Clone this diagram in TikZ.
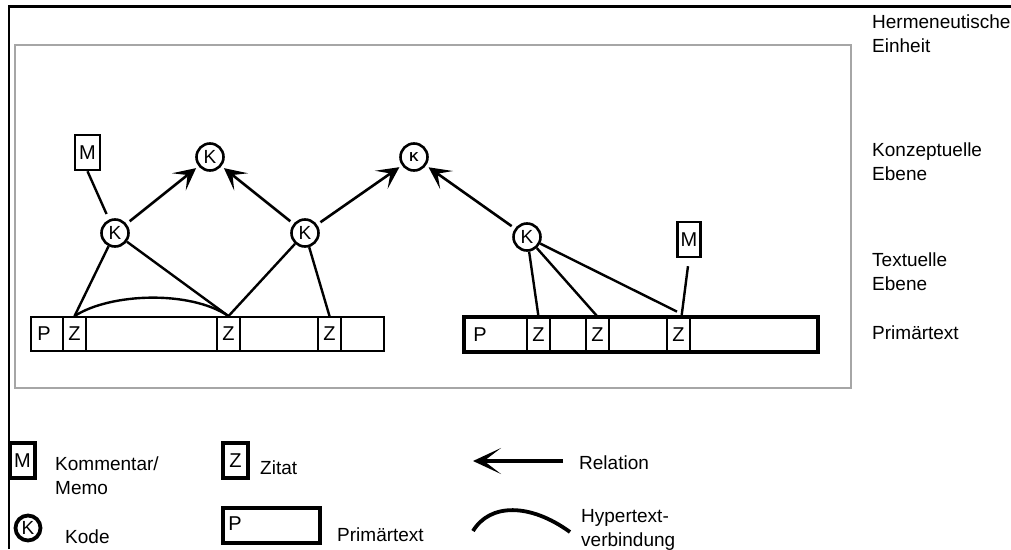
\documentclass[tikz,border=0pt]{standalone}
\usepackage{fontspec}
\setmainfont{Liberation Sans}
\usetikzlibrary{arrows.meta}
\begin{document}
\begin{tikzpicture}[x=1pt,y=-1pt,
  every node/.style={font=\fontsize{19}{24}\selectfont},
  kreis/.style={circle,draw,line width=2.6pt,minimum size=27pt,inner sep=0pt,font=\fontsize{19}{19}\selectfont},
  mbox/.style={rectangle,draw,line width=2.5pt,minimum width=25pt,minimum height=35pt,inner sep=0pt,font=\fontsize{20}{20}\selectfont},
  zcell/.style={rectangle,draw,line width=1.8pt,minimum width=23pt,minimum height=34pt,inner sep=0pt,font=\fontsize{20}{20}\selectfont},
  bar/.style={rectangle,draw,inner sep=0pt},
  ptext/.style={inner sep=0pt,font=\fontsize{20}{20}\selectfont},
  conn/.style={line width=2.4pt},
  rel/.style={line width=2.6pt,-{Stealth[length=22pt,width=22pt,inset=11pt]},shorten >=3pt,shorten <=4pt},
  lbl/.style={anchor=west,align=left,inner sep=0pt},
  lgd/.style={line width=3.8pt},
]
\useasboundingbox (0,0) rectangle (1011,549);
\fill[white] (0,0) rectangle (1011,549);
% frames
\draw[line width=2.8pt] (9,549) -- (9,6.5) -- (1011,6.5);
\draw[black!35,line width=1.3pt] (15,45) rectangle (851,388);

% code nodes
\node[kreis] (K1) at (210,157) {K};
\node[kreis] (K2) at (414,157) {\fontsize{13}{13}\selectfont\bfseries K};
\node[kreis] (K3) at (115,233) {K};
\node[kreis] (K4) at (305,233) {K};
\node[kreis] (K5) at (527,237) {K};
\node[mbox] (M1) at (87.5,152.5) {M};
\node[mbox,minimum width=23pt] (M2) at (689,239.5) {M};

% primary text 1
\node[bar,line width=1.8pt,minimum width=353pt,minimum height=34pt] (bar1) at (207.5,334) {};
\node[ptext] (P1) at (44,334) {P};
\node[zcell] (Z1) at (74.5,334) {Z};
\node[zcell] (Z2) at (228.5,334) {Z};
\node[zcell] (Z3) at (329.5,334) {Z};

% primary text 2
\node[bar,line width=4pt,minimum width=354pt,minimum height=35pt] (bar2) at (641,334.5) {};
\node[ptext] (P2) at (480,334.5) {P};
\node[zcell] (Z4) at (538.5,334.5) {Z};
\node[zcell] (Z5) at (597.5,334.5) {Z};
\node[zcell] (Z6) at (678.5,334.5) {Z};

% relations
\draw[rel] (K3) -- (K1);
\draw[rel] (K4) -- (K1);
\draw[rel] (K4) -- (K2);
\draw[rel] (K5) -- (K2);

% links
\draw[conn,shorten >=6pt] (M1.south) -- (K3);
\draw[conn] (K3) -- (Z1.north);
\draw[conn] (K3) -- (Z2.north);
\draw[conn] (K4) -- (Z2.north);
\draw[conn] (K4) -- (Z3.north);
\draw[conn] (Z1.north) .. controls (110,293) and (190,290) .. (Z2.north);
\draw[conn] (K5) -- (Z4.north);
\draw[conn] (K5) -- (Z5.north);
\draw[conn] (K5) -- ([xshift=-1.5pt,yshift=5pt]Z6.north);
\draw[conn,shorten <=8pt] (M2.south) -- ([xshift=3pt]Z6.north);

% level labels
\node[lbl] (lHE) at (872,33.5) {Hermeneutische\\Einheit};
\node[lbl] (lKE) at (872,161.5) {Konzeptuelle\\Ebene};
\node[lbl] (lTE) at (872,271.5) {Textuelle\\Ebene};
\node[lbl] (lPT) at (872,333) {Primärtext};

% legend
\node[mbox,line width=3.8pt] (mL) at (22.5,460.5) {M};
\node[kreis,line width=3.8pt,minimum size=25pt] (kL) at (28,528) {K};
\node[mbox,line width=3.8pt] (zL) at (235.5,460.5) {Z};
\node[bar,line width=3.8pt,minimum width=97pt,minimum height=35pt] (pL) at (271.5,525.5) {};
\node[ptext] (pLt) at (235,523.5) {P};
\coordinate (r1) at (563,461);
\coordinate (r0) at (473,461);
\draw[line width=3.8pt,-{Stealth[length=28pt,width=26pt,inset=17pt]}] (r1) -- (r0);
\coordinate (h0) at (473,531);
\coordinate (h1) at (570,532);
\draw[lgd] (h0) .. controls (490,503) and (530,503) .. (h1);

\node[lbl] (lKM) at (55,475.5) {Kommentar/\\Memo};
\node[lbl] (lKo) at (65,537) {Kode};
\node[lbl] (lZi) at (260,468) {Zitat};
\node[lbl] (lPr) at (337,535) {Primärtext};
\node[lbl] (lRe) at (579,463) {Relation};
\node[lbl] (lHy) at (581,530) {Hypertext-\\verbindung};
\end{tikzpicture}
\end{document}
